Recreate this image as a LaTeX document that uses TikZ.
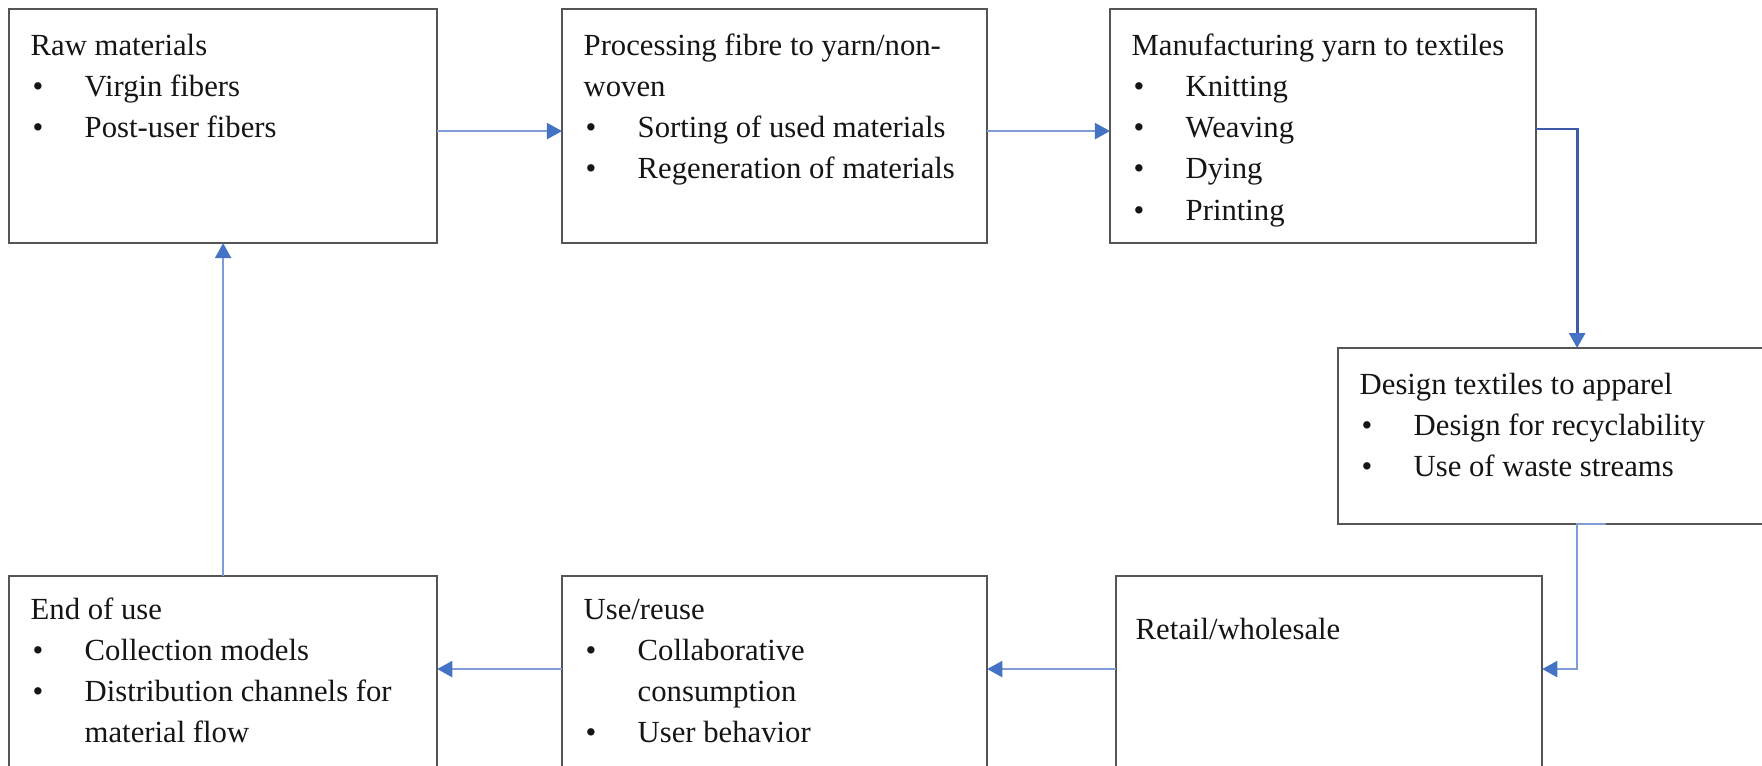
\documentclass[tikz,border=0pt]{standalone}
\usepackage{fontspec}
\setmainfont{Liberation Serif}
\usetikzlibrary{arrows.meta}
\definecolor{boxgray}{HTML}{555555}
\definecolor{lineblue}{HTML}{7F9CD6}
\definecolor{darkblue}{HTML}{3E5BAA}
\definecolor{tipblue}{HTML}{4472C4}
\definecolor{txt}{HTML}{151515}
\newcommand{\bitem}[1]{\makebox[0.54cm][l]{\hspace{0.02cm}\textbullet}#1}
\newcommand{\bcont}[1]{\hspace*{0.54cm}#1}
\begin{document}
\begin{tikzpicture}[x=0.01cm,y=-0.01cm,
  box/.style={draw=boxgray, line width=0.022cm, anchor=north west, inner sep=0, outer sep=0},
  boxtext/.style={anchor=base west, inner sep=0, text=txt, font=\fontsize{8.73pt}{11.75pt}\selectfont},
  conn/.style={draw=lineblue, line width=0.02cm, -{Triangle[length=0.15cm,width=0.16cm,color=tipblue]}},
  conndark/.style={draw=darkblue, line width=0.028cm, -{Triangle[length=0.15cm,width=0.16cm,color=tipblue]}}]
\useasboundingbox (0,0) rectangle (1762,766);
\fill[white] (0,0) rectangle (1762,766);
\clip (0,0) rectangle (1762,766);
% boxes
\node[box, minimum width=4.28cm, minimum height=2.34cm] (b1) at (9,9) {};
\node[box, minimum width=4.25cm, minimum height=2.34cm] (b2) at (562,9) {};
\node[box, minimum width=4.26cm, minimum height=2.34cm] (b3) at (1110,9) {};
\node[box, minimum width=4.78cm, minimum height=1.76cm] (b4) at (1338,348) {};
\node[box, minimum width=4.26cm, minimum height=2.44cm] (b5) at (1116,576) {};
\node[box, minimum width=4.25cm, minimum height=2.44cm] (b6) at (562,576) {};
\node[box, minimum width=4.28cm, minimum height=2.44cm] (b7) at (9,576) {};
% texts
\node[boxtext] (t1) at ([shift={(21,46)}]b1.north west) {\begin{tabular}[t]{@{}l@{}}Raw materials\\ \bitem{Virgin fibers}\\ \bitem{Post-user fibers}\end{tabular}};
\node[boxtext] (t2) at ([shift={(21,46)}]b2.north west) {\begin{tabular}[t]{@{}l@{}}Processing fibre to yarn/non-\\ woven\\ \bitem{Sorting of used materials}\\ \bitem{Regeneration of materials}\end{tabular}};
\node[boxtext] (t3) at ([shift={(21,46)}]b3.north west) {\begin{tabular}[t]{@{}l@{}}Manufacturing yarn to textiles\\ \bitem{Knitting}\\ \bitem{Weaving}\\ \bitem{Dying}\\ \bitem{Printing}\end{tabular}};
\node[boxtext] (t4) at ([shift={(21,46)}]b4.north west) {\begin{tabular}[t]{@{}l@{}}Design textiles to apparel\\ \bitem{Design for recyclability}\\ \bitem{Use of waste streams}\end{tabular}};
\node[boxtext] (t5) at ([shift={(19,63)}]b5.north west) {Retail/wholesale};
\node[boxtext] (t6) at ([shift={(21,43)}]b6.north west) {\begin{tabular}[t]{@{}l@{}}Use/reuse\\ \bitem{Collaborative}\\ \bcont{consumption}\\ \bitem{User behavior}\end{tabular}};
\node[boxtext] (t7) at ([shift={(21,43)}]b7.north west) {\begin{tabular}[t]{@{}l@{}}End of use\\ \bitem{Collection models}\\ \bitem{Distribution channels for}\\ \bcont{material flow}\end{tabular}};
% connectors
\draw[conn] ([yshift=-0.05cm]b1.east) -- ([yshift=-0.05cm]b2.west);
\draw[conn] ([yshift=-0.05cm]b2.east) -- ([yshift=-0.05cm]b3.west);
\draw[conndark] ([yshift=-0.03cm]b3.east) -| (b4.north);
\draw[conn] ([xshift=0.29cm]b4.south) -- (b4.south) |- ([yshift=0.29cm]b5.east);
\draw[conn] ([yshift=0.29cm]b5.west) -- ([yshift=0.29cm]b6.east);
\draw[conn] ([yshift=0.29cm]b6.west) -- ([yshift=0.29cm]b7.east);
\draw[conn] (b7.north) -- (b1.south);
\end{tikzpicture}
\end{document}
